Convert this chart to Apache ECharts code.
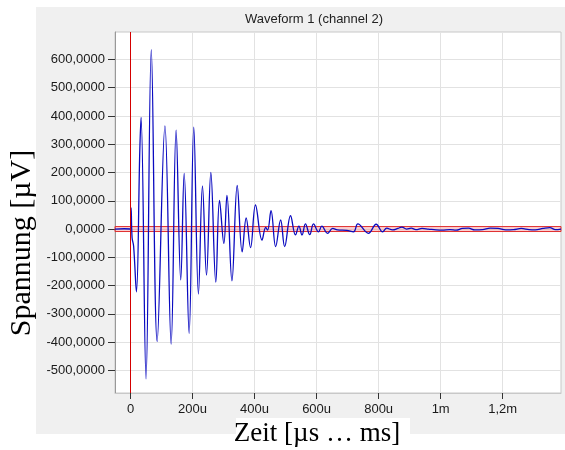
<!DOCTYPE html>
<html>
<head>
<meta charset="utf-8">
<script src="https://cdn.jsdelivr.net/npm/echarts@6/dist/echarts.min.js"></script>
<style>
  html, body { margin: 0; padding: 0; background: #fff; }
  #chart { width: 565px; height: 450px; }
</style>
</head>
<body>
<div id="chart"></div>
<script>
// waveform samples (time in µs, voltage in µV)
const timeUs = [
    -50, -20, 0, 2, 5, 10, 19, 30, 34, 50, 67, 86, 111, 131, 147, 162, 173, 189,
    204, 219, 232, 245, 259, 275, 287, 301, 311, 327, 344, 360, 373, 387, 403,
    424, 436, 442, 453, 468, 484, 497, 516, 532, 543, 553, 564, 578, 590, 606,
    617, 635, 652, 667, 697, 719, 733, 767, 792, 813, 826, 845, 862, 875, 890,
    905, 920, 940, 960, 985, 1005, 1030, 1050, 1070, 1090, 1110, 1135, 1160,
    1185, 1210, 1235, 1260, 1285, 1305, 1330, 1352, 1370, 1388
];
const voltage = [
    0, 1, 0, 75, -30, -60, -222, 280, 395, -530, 635, -398, 365, -407, 350, -180, 197, -369,
    360, -230, 153, -163, 200, -188, 101, -51, 119, -183, 154, -81, 39, -66, 85,
    -39, 6, -4, 65, -62, 32, -62, 47, -21, 10, -21, 18, -20, 18, -10,
    10, -15, 2, -3, -5, -10, 18, -15, 17, -10, 3, -3, 2, 7, 0,
    3, -2, 2, 0, -3, -4, -2, -4, 2, 3, -3, -2, 3,
    2, -3, -2, 2, -2, -3, 2, 5, -2, 0
];
const xTicks = [0, 200, 400, 600, 800, 1000, 1200];
const yTicks = [-500, -400, -300, -200, -100, 0, 100, 200, 300, 400, 500, 600];
const xRange = [-50, 1388];
const yRange = [-580, 697];
const triggerTime = 0;
const triggerBand = 8.8;

const chart = echarts.init(document.getElementById('chart'));

const points = timeUs.map((t, i) => [t, voltage[i]]);

const xLabel = v => {
    if (v === 0) return '0';
    if (v < 1000) return v + 'u';
    return String(v / 1000).replace('.', ',') + 'm';
};
const yLabel = v => v.toFixed(4).replace('.', ',');

const option = {
    backgroundColor: '#fff',
    animation: false,
    title: {
        text: 'Waveform 1 (channel 2)',
        left: 309,
        top: 8,
        textAlign: 'center',
        textStyle: { fontFamily: 'Liberation Sans', fontSize: 13, fontWeight: 'normal', color: '#222' }
    },
    graphic: [
        // gray panel behind the plot
        { type: 'rect', z: -10, shape: { x: 36, y: 7, width: 529, height: 427 }, style: { fill: '#f0f0f0' } },
        // white box under the x axis name
        { type: 'rect', z: 50, shape: { x: 236, y: 418, width: 174, height: 32 }, style: { fill: '#fff' } },
        {
            type: 'text', z: 51, x: 317, y: 434,
            style: {
                text: 'Zeit [µs … ms]', fill: '#000', align: 'center', verticalAlign: 'middle',
                font: '27px "Liberation Serif"'
            }
        },
        {
            type: 'text', z: 51, x: 22, y: 243, rotation: Math.PI / 2,
            style: {
                text: 'Spannung [µV]', fill: '#000', align: 'center', verticalAlign: 'middle',
                font: '30px "Liberation Serif"'
            }
        }
    ],
    grid: {
        left: 115, top: 32, right: 4, bottom: 57,
        show: true, backgroundColor: '#fff', borderColor: '#c8c8c8', borderWidth: 1
    },
    xAxis: {
        type: 'value',
        min: xRange[0],
        max: xRange[1],
        axisLine: { onZero: false, lineStyle: { color: '#c8c8c8' } },
        axisTick: { customValues: xTicks, length: 6, lineStyle: { color: '#333' } },
        axisLabel: {
            customValues: xTicks, formatter: xLabel, margin: 10,
            fontFamily: 'Liberation Sans', fontSize: 13, color: '#1a1a1a'
        },
        splitLine: { show: true, lineStyle: { color: '#e2e2e2' } }
    },
    yAxis: {
        type: 'value',
        min: yRange[0],
        max: yRange[1],
        axisLine: { show: true, onZero: false, lineStyle: { color: '#999' } },
        axisTick: { show: true, customValues: yTicks, length: 7, lineStyle: { color: '#333' } },
        axisLabel: {
            customValues: yTicks, formatter: yLabel, margin: 10,
            fontFamily: 'Liberation Sans', fontSize: 13, color: '#1a1a1a'
        },
        splitLine: { show: true, lineStyle: { color: '#e2e2e2' } }
    },
    series: [
        {
            type: 'line',
            data: points,
            showSymbol: false,
            smooth: 0.4,
            lineStyle: { color: '#0a0ac0', width: 1.3 },
            markArea: {
                silent: true,
                itemStyle: { color: 'rgba(240,120,120,0.35)', borderColor: '#e03030', borderWidth: 1 },
                data: [[{ yAxis: -triggerBand }, { yAxis: triggerBand }]]
            },
            markLine: {
                silent: true,
                symbol: 'none',
                label: { show: false },
                lineStyle: { color: '#d40000', width: 1, type: 'solid' },
                data: [{ xAxis: triggerTime }]
            }
        }
    ]
};
chart.setOption(option);
</script>
</body>
</html>
